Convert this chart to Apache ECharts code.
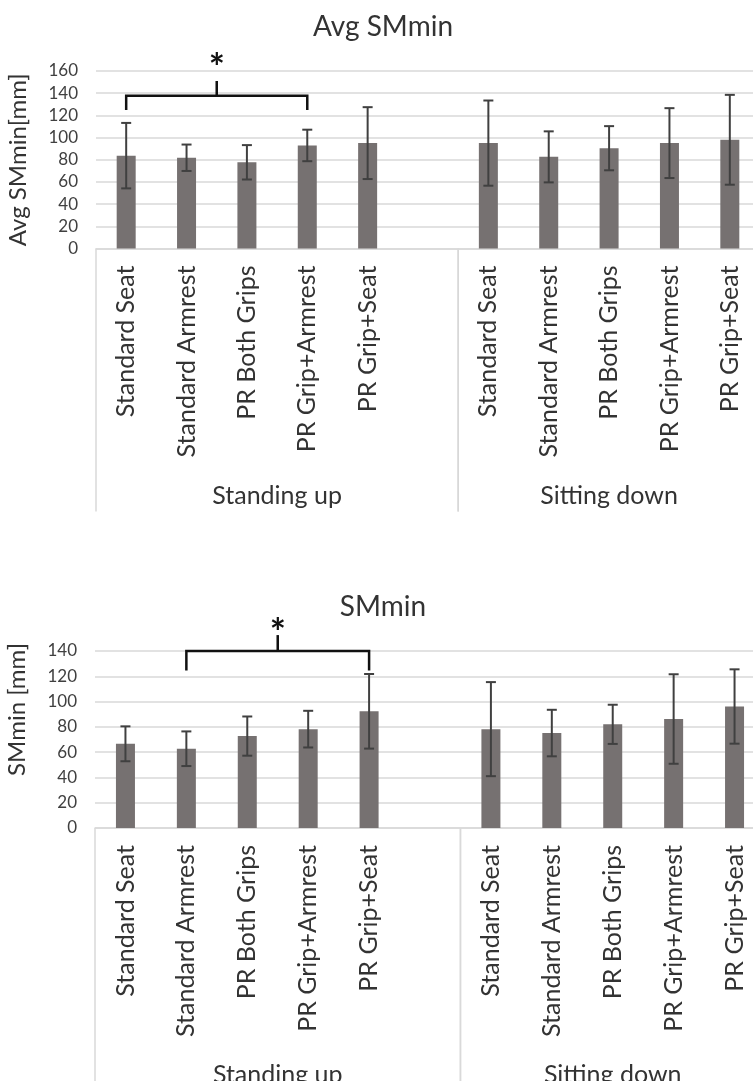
<!doctype html>
<html>
<head>
    <meta charset="utf-8">
    <title>SMmin</title>
    <style>
        html, body { margin: 0; padding: 0; background: #fff; }
        #main { width: 753px; height: 1081px; }
    </style>
</head>
<body>
    <div id="main"></div>
</body>
</html>
<script type="text/javascript" src="https://cdn.jsdelivr.net/npm/echarts@6/dist/echarts.min.js"></script>
<script type="text/javascript">
    // conditions and groups (one empty slot between the two groups)
    var conditions = ['Standard Seat', 'Standard Armrest', 'PR Both Grips', 'PR Grip+Armrest', 'PR Grip+Seat'];
    var groups = ['Standing up', 'Sitting down'];

    // Avg SMmin: mean and SD, standing up then sitting down
    var avgMean = [83.7, 81.8, 77.7, 92.9, 95.0, 95.0, 82.6, 90.4, 95.0, 98.0];
    var avgSD = [29.5, 11.9, 15.5, 14.2, 32.4, 38.4, 23.0, 19.9, 31.5, 40.5];

    // SMmin: mean and SD
    var minMean = [66.6, 62.7, 72.7, 78.2, 92.3, 78.2, 75.1, 82.0, 86.2, 96.1];
    var minSD = [13.8, 13.7, 15.5, 14.5, 29.5, 37.2, 18.4, 15.5, 35.4, 29.4];

    // significance brackets: from index, to index, bar level, leg end, top of tick, star
    var avgSig = [0, 3, 137.7, 124.8, 151, 162];
    var minSig = [1, 4, 140, 124.6, 152.6, 154];

    var avgTicks = [0, 160, 20];
    var minTicks = [0, 140, 20];

    var FONT = 'Lato';
    var TXT = '#333333';

    // 11 slots: 5 + blank + 5
    var slots = conditions.concat(['']).concat(conditions);
    function slotIndex(i) { return i < 5 ? i : i + 1; }

    function barData(mean) {
        var out = [];
        for (var i = 0; i < slots.length; i++) out.push(null);
        mean.forEach(function (v, i) { out[slotIndex(i)] = v; });
        return out;
    }
    function errData(mean, sd) {
        return mean.map(function (v, i) { return [slotIndex(i), v - sd[i], v + sd[i]]; });
    }
    var groupData = [[0, 5, 0, 0], [6, 10, 0, 1]];

    function renderErr(params, api) {
        var x = api.value(0);
        var lo = api.coord([x, api.value(1)]);
        var hi = api.coord([x, api.value(2)]);
        var st = { stroke: '#404040', lineWidth: 2 };
        return {
            type: 'group',
            children: [
                { type: 'line', shape: { x1: hi[0], y1: hi[1], x2: lo[0], y2: lo[1] }, style: st },
                { type: 'line', shape: { x1: hi[0] - 5, y1: hi[1], x2: hi[0] + 5, y2: hi[1] }, style: st },
                { type: 'line', shape: { x1: lo[0] - 5, y1: lo[1], x2: lo[0] + 5, y2: lo[1] }, style: st }
            ]
        };
    }

    function renderGroup(params, api) {
        var p0 = api.coord([api.value(0), 0]);
        var p1 = api.coord([api.value(1), 0]);
        var band = api.size([1, 0])[0];
        var l = p0[0] - band / 2, r = p1[0] + band / 2;
        var st = { stroke: '#d9d9d9', lineWidth: 1.5 };
        return {
            type: 'group',
            children: [
                { type: 'line', shape: { x1: l, y1: p0[1], x2: l, y2: p0[1] + 263 }, style: st },
                { type: 'line', shape: { x1: r, y1: p0[1], x2: r, y2: p0[1] + 263 }, style: st },
                {
                    type: 'text',
                    style: {
                        text: groups[api.value(3)], x: (l + r) / 2, y: p0[1] + 247,
                        fontSize: 25, fontFamily: FONT, fill: TXT, align: 'center', verticalAlign: 'middle'
                    }
                }
            ]
        };
    }

    function renderSig(params, api) {
        var a = api.value(0), b = api.value(1);
        var pa = api.coord([a, api.value(2)]), pb = api.coord([b, api.value(2)]);
        var ea = api.coord([a, api.value(3)]), eb = api.coord([b, api.value(3)]);
        var mt = api.coord([a, api.value(4)]), ms = api.coord([a, api.value(5)]);
        var mx = (pa[0] + pb[0]) / 2;
        var st = { stroke: '#111', lineWidth: 2.5, fill: null };
        return {
            type: 'group',
            children: [
                { type: 'polyline', shape: { points: [[ea[0], ea[1]], [pa[0], pa[1]], [pb[0], pb[1]], [eb[0], eb[1]]] }, style: st },
                { type: 'line', shape: { x1: mx, y1: pa[1], x2: mx, y2: mt[1] }, style: st },
                {
                    type: 'text',
                    style: {
                        text: '*', x: mx, y: ms[1], fontSize: 38, fontWeight: 'bold', fontFamily: FONT, fill: '#111',
                        align: 'center', verticalAlign: 'middle'
                    }
                }
            ]
        };
    }

    function yAxisOpt(idx, ticks, name, shiftUp) {
        return {
            gridIndex: idx,
            type: 'value',
            min: ticks[0], max: ticks[1], interval: ticks[2],
            name: name,
            nameLocation: 'middle',
            nameGap: 66,
            nameTextStyle: { fontSize: 24, fontFamily: FONT, color: TXT, padding: [0, 0, 0, shiftUp] },
            axisLine: { show: false },
            axisTick: { show: false },
            axisLabel: { fontSize: 17, fontFamily: FONT, color: '#404040', margin: 18 },
            splitLine: { lineStyle: { color: '#d9d9d9', width: 1.5 } }
        };
    }

    function xAxisOpt(idx) {
        return {
            gridIndex: idx,
            type: 'category',
            data: slots,
            axisLine: { lineStyle: { color: '#d9d9d9', width: 1.5 } },
            axisTick: { show: false },
            axisLabel: { interval: 0, rotate: 90, fontSize: 25, fontFamily: FONT, color: TXT, margin: 17 },
            splitLine: { show: false }
        };
    }

    var myChart = echarts.init(document.getElementById('main'));

    var option = {
        animation: false,
        title: [{
            text: 'Avg SMmin', left: 383, top: 13, textAlign: 'center', padding: 0,
            textStyle: { fontSize: 28, fontFamily: FONT, fontWeight: 'normal', color: TXT }
        }, {
            text: 'SMmin', left: 383, top: 593, textAlign: 'center', padding: 0,
            textStyle: { fontSize: 28, fontFamily: FONT, fontWeight: 'normal', color: TXT }
        }],
        grid: [
            { left: 96, top: 71, width: 664, height: 177.5, outerBoundsMode: 'none' },
            { left: 95, top: 651, width: 670, height: 177, outerBoundsMode: 'none' }
        ],
        xAxis: [xAxisOpt(0), xAxisOpt(1)],
        yAxis: [
            yAxisOpt(0, avgTicks, 'Avg SMmin[mm]', 0),
            yAxisOpt(1, minTicks, 'SMmin [mm]', 60)
        ],
        series: [{
            name: 'Avg SMmin', type: 'bar', xAxisIndex: 0, yAxisIndex: 0,
            data: barData(avgMean), barWidth: 19, itemStyle: { color: '#767171' }
        }, {
            type: 'custom', xAxisIndex: 0, yAxisIndex: 0, renderItem: renderErr,
            data: errData(avgMean, avgSD), encode: { x: 0, y: [1, 2] }, z: 3
        }, {
            type: 'custom', xAxisIndex: 0, yAxisIndex: 0, renderItem: renderGroup,
            data: groupData, encode: { x: [0, 1], y: 2 }
        }, {
            type: 'custom', xAxisIndex: 0, yAxisIndex: 0, renderItem: renderSig,
            data: [avgSig], encode: { x: [0, 1], y: 2 }
        }, {
            name: 'SMmin', type: 'bar', xAxisIndex: 1, yAxisIndex: 1,
            data: barData(minMean), barWidth: 19, itemStyle: { color: '#767171' }
        }, {
            type: 'custom', xAxisIndex: 1, yAxisIndex: 1, renderItem: renderErr,
            data: errData(minMean, minSD), encode: { x: 0, y: [1, 2] }, z: 3
        }, {
            type: 'custom', xAxisIndex: 1, yAxisIndex: 1, renderItem: renderGroup,
            data: groupData, encode: { x: [0, 1], y: 2 }
        }, {
            type: 'custom', xAxisIndex: 1, yAxisIndex: 1, renderItem: renderSig,
            data: [minSig], encode: { x: [0, 1], y: 2 }
        }]
    };

    myChart.setOption(option);
</script>
